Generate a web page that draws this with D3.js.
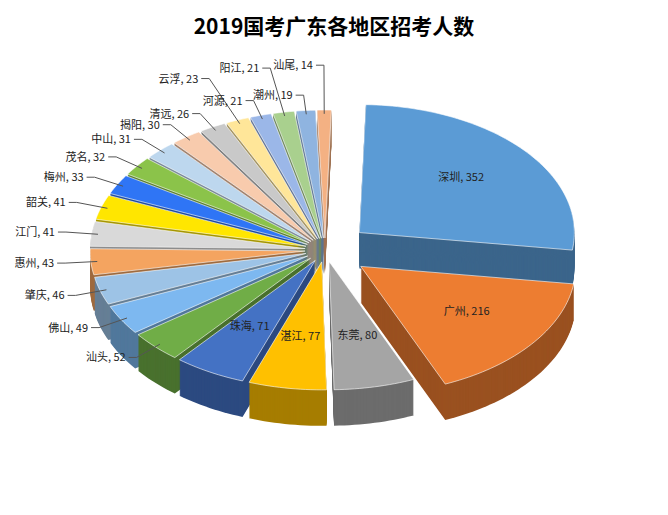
<!DOCTYPE html><html><head><meta charset="utf-8"><script src="https://d3js.org/d3.v7.min.js"></script>
<style>body{margin:0;background:#fff}</style></head><body><svg id="c" width="668" height="515"></svg>
<script>
const cities=["深圳","广州","东莞","湛江","珠海","汕头","佛山","肇庆","惠州","江门","韶关","梅州","茂名","中山","揭阳","清远","云浮","河源","阳江","潮州","汕尾"];
const values=[352,216,80,77,71,52,49,46,43,41,41,33,32,31,30,26,23,21,21,19,14];
const colors=["#5B9BD5","#ED7D31","#A5A5A5","#FFC000","#4472C4","#70AD47","#7DB8F0","#9DC3E6","#F4A460","#D9D9D9","#FFE600","#2F75F5","#8BC34A","#BDD7EE","#F8CBAD","#C9C9C9","#FFE699","#9BB7E8","#A9D08E","#8FB4E0","#F4B183"];
const svg=d3.select("#c");
svg.append("text").attr("x",334).attr("y",34).attr("text-anchor","middle").attr("font-family","Noto Sans CJK SC").attr("font-weight","bold").attr("font-size",21).text("2019国考广东各地区招考人数");
const cx=325,cy=250,rx=215,ry=128,depth=36;
const pie=d3.pie().sort(null).startAngle(0.03).endAngle(0.03+2*Math.PI)(values);
const explode=i=>i<2?45:20;
function pt(a,r,dx,dy,off){return [cx+dx+rx*r*Math.sin(a),cy+dy-ry*r*Math.cos(a)+(off||0)];}
const slices=pie.map((p,i)=>{const m=(p.startAngle+p.endAngle)/2;const e=explode(i);
 return {p,i,m,dx:e*Math.sin(m),dy:-e*0.6*Math.cos(m)};});
function path(s,off){const pts=[pt(0,0,s.dx,s.dy,off)];const n=Math.max(4,Math.ceil((s.p.endAngle-s.p.startAngle)*40));
 for(let k=0;k<=n;k++){const a=s.p.startAngle+(s.p.endAngle-s.p.startAngle)*k/n;pts.push(pt(a,1,s.dx,s.dy,off));}
 return d3.line()(pts)+"Z";}
const order=slices.slice().sort((a,b)=>(-Math.cos(a.m))-(-Math.cos(b.m)));
const g=svg.append("g");
order.forEach(s=>{const dark=d3.color(colors[s.i]).darker(1.2);
 for(let o=depth;o>0;o-=1)g.append("path").attr("d",path(s,o)).attr("fill",dark);
 g.append("path").attr("d",path(s,0)).attr("fill",colors[s.i]).attr("stroke","#fff").attr("stroke-width",0.6);});
const lg=svg.append("g").attr("font-family","Noto Sans CJK SC").attr("font-size",11).attr("fill","#222");
slices.forEach(s=>{const lab=cities[s.i]+", "+values[s.i];
 if(s.i<5){const [x,y]=pt(s.m,0.62,s.dx,s.dy);lg.append("text").attr("x",x).attr("y",y).attr("text-anchor","middle").text(lab);}
 else{const ext=(s.i>=15&&s.i%2==0)?1.35:1.12;
  const p1=pt(s.m,0.97,s.dx,s.dy),p2=pt(s.m,ext,s.dx,s.dy),left=Math.sin(s.m)<0;
  lg.append("line").attr("x1",p1[0]).attr("y1",p1[1]).attr("x2",p2[0]).attr("y2",p2[1]).attr("stroke","#555");
  const p3=[p2[0]+(left?-8:8),p2[1]];
  lg.append("line").attr("x1",p2[0]).attr("y1",p2[1]).attr("x2",p3[0]).attr("y2",p3[1]).attr("stroke","#555");
  lg.append("text").attr("x",p3[0]+(left?-3:3)).attr("y",p3[1]+4).attr("text-anchor",left?"end":"start").text(lab);}});
</script></body></html>
